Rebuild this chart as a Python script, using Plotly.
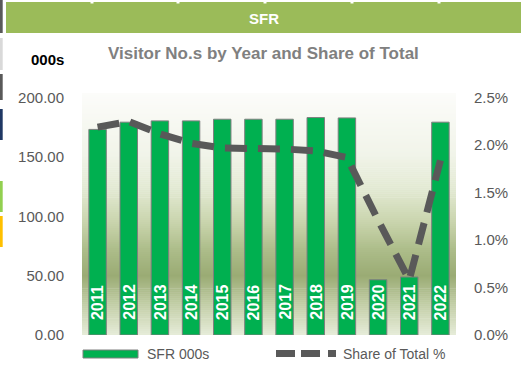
import plotly.graph_objects as go

# ---- data ----
years = ["2011", "2012", "2013", "2014", "2015", "2016",
         "2017", "2018", "2019", "2020", "2021", "2022"]
visitors_000s = [173.3, 179.4, 180.5, 180.5, 181.9, 181.9,
                 181.9, 183.3, 183.0, 46.6, 48.9, 179.4]
share_pct = [2.19, 2.25, 2.12, 2.02, 1.97, 1.97,
             1.96, 1.94, 1.87, 1.21, 0.58, 1.84]
left_ticks = [0, 50, 100, 150, 200]
right_ticks = [0, 0.5, 1.0, 1.5, 2.0, 2.5]

W, H = 526, 366
L, R, T, B = 82, 70, 93, 31
PW, PH = W - L - R, H - T - B

FONT = "Liberation Sans"
GREY = "#595959"

fig = go.Figure()

fig.add_trace(go.Bar(
    x=years, y=visitors_000s, name="SFR 000s",
    marker=dict(color="#00B050", line=dict(color="#7f7f7f", width=1)),
    hoverinfo="skip", showlegend=False,
))

fig.add_trace(go.Scatter(
    x=years, y=share_pct, yaxis="y2", mode="lines", name="Share of Total %",
    line=dict(color=GREY, width=7, dash="22px,11px"),
    hoverinfo="skip", showlegend=False,
))


# ---- plot-area gradient (stripes behind the traces) ----
def hex2rgb(h):
    h = h.lstrip("#")
    return [int(h[i:i + 2], 16) for i in (0, 2, 4)]


stops = [(0.0, "#e6ecd9"), (0.126, "#c2cea6"), (0.245, "#9aab74"),
         (0.353, "#adbd8a"), (0.47, "#cad5ae"), (0.6, "#e2e9d2"),
         (0.744, "#f1f4e9"), (1.0, "#fcfcfa")]


def grad(f):
    for (f0, c0), (f1, c1) in zip(stops[:-1], stops[1:]):
        if f0 <= f <= f1:
            t = (f - f0) / (f1 - f0) if f1 > f0 else 0
            a, b = hex2rgb(c0), hex2rgb(c1)
            return "rgb({},{},{})".format(*[round(a[i] + (b[i] - a[i]) * t) for i in range(3)])
    return stops[-1][1]


shapes = []
N = 120
for i in range(N):
    y0, y1 = i / N, (i + 1) / N + 0.002
    shapes.append(dict(type="rect", xref="paper", yref="paper",
                       x0=0, x1=1, y0=y0, y1=min(y1, 1),
                       fillcolor=grad((i + 0.5) / N), line=dict(width=0),
                       layer="below"))


# pixel position -> paper coordinate (paper spans the plot area)
def px_x(p):
    return (p - L) / PW


def px_y(p):
    return (H - B - p) / PH


# header band
shapes.append(dict(type="rect", xref="paper", yref="paper",
                   x0=px_x(6), x1=px_x(521), y0=px_y(33), y1=px_y(2),
                   fillcolor="#9BBB59", line=dict(width=0)))
for nx in [92, 178, 265, 352, 439]:
    shapes.append(dict(type="rect", xref="paper", yref="paper",
                       x0=px_x(nx - 1.5), x1=px_x(nx + 1.5), y0=px_y(3.5), y1=px_y(2),
                       fillcolor="white", line=dict(width=0)))

# neighbouring cell colour strips along the left edge
for (ya, yb, col) in [(0, 33, "#595959"), (38, 70, "#d9d9d9"), (74, 100, "#595959"),
                      (109, 140, "#1f3864"), (181, 212, "#92d050"), (216, 247, "#ffc000")]:
    shapes.append(dict(type="rect", xref="paper", yref="paper",
                       x0=px_x(0), x1=px_x(2.7), y0=px_y(yb), y1=px_y(ya),
                       fillcolor=col, line=dict(width=0)))

# legend swatches
shapes.append(dict(type="rect", xref="paper", yref="paper",
                   x0=px_x(83), x1=px_x(138), y0=px_y(358), y1=px_y(350),
                   fillcolor="#00B050", line=dict(color="#7f7f7f", width=1)))
shapes.append(dict(type="line", xref="paper", yref="paper",
                   x0=px_x(276), x1=px_x(336), y0=px_y(353.5), y1=px_y(353.5),
                   line=dict(color=GREY, width=7, dash="19px,6px,19px,8px,8px")))

annotations = [
    dict(text="<b>SFR</b>", x=px_x(264), y=px_y(18), xref="paper", yref="paper",
         showarrow=False, xanchor="center", yanchor="middle",
         font=dict(family=FONT, size=15, color="white")),
    dict(text="<b>000s</b>", x=px_x(29), y=px_y(59), xref="paper", yref="paper",
         showarrow=False, xanchor="left", yanchor="middle",
         font=dict(family=FONT, size=15, color="black")),
    dict(text="<b>Visitor No.s by Year and Share of Total</b>", x=px_x(263), y=px_y(54),
         xref="paper", yref="paper", showarrow=False, xanchor="center", yanchor="middle",
         font=dict(family=FONT, size=17, color="#808080")),
    dict(text="SFR 000s", x=px_x(145), y=px_y(354), xref="paper", yref="paper",
         showarrow=False, xanchor="left", yanchor="middle",
         font=dict(family=FONT, size=14, color=GREY)),
    dict(text="Share of Total %", x=px_x(341), y=px_y(354), xref="paper", yref="paper",
         showarrow=False, xanchor="left", yanchor="middle",
         font=dict(family=FONT, size=14, color=GREY)),
]

# year labels standing inside the base of each bar (x = category index)
for i, yr in enumerate(years):
    annotations.append(dict(text="<b>%s</b>" % yr, x=i, y=0, xref="x", yref="y",
                            showarrow=False, textangle=-90,
                            xanchor="center", yanchor="bottom", yshift=14,
                            borderpad=0,
                            font=dict(family=FONT, size=16, color="white")))

fig.update_layout(
    width=W, height=H,
    margin=dict(l=L, r=R, t=T, b=B, pad=0),
    paper_bgcolor="white", plot_bgcolor="white",
    bargap=0.44,
    shapes=shapes, annotations=annotations,
    xaxis=dict(type="category", range=[-0.5, len(years) - 0.5],
               showticklabels=False, showgrid=False,
               zeroline=False, showline=False, ticks=""),
    yaxis=dict(range=[0, 204], tickvals=left_ticks, tickformat=".2f",
               showgrid=False, zeroline=False, showline=False,
               ticks="outside", ticklen=14, tickcolor="rgba(0,0,0,0)",
               tickfont=dict(family=FONT, size=15, color=GREY)),
    yaxis2=dict(range=[0, 2.55], tickvals=right_ticks,
                ticktext=["%.1f%%" % v for v in right_ticks],
                overlaying="y", side="right",
                showgrid=False, zeroline=False, showline=False,
                ticks="outside", ticklen=14, tickcolor="rgba(0,0,0,0)",
                tickfont=dict(family=FONT, size=15, color=GREY)),
    showlegend=False,
)

fig.write_html("out.html")
